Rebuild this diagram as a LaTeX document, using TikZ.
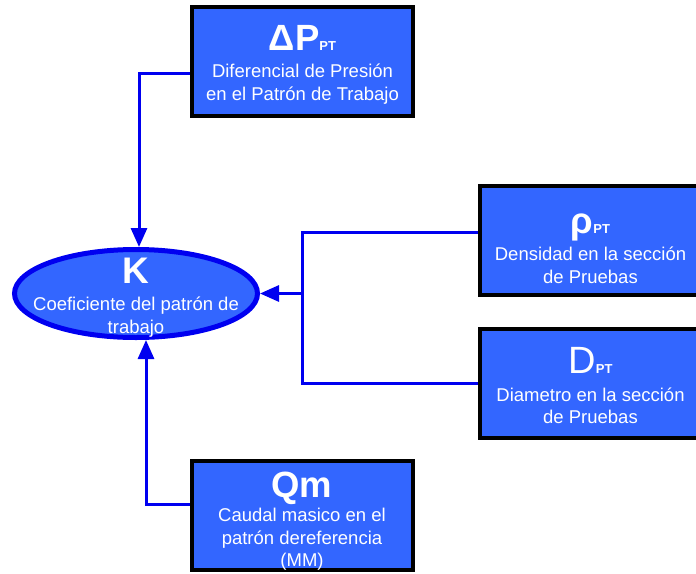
\documentclass[tikz,border=0pt]{standalone}
\usepackage{fontspec}
\setmainfont{Liberation Sans}
\usepackage{xcolor}
\usetikzlibrary{positioning,arrows.meta,shapes.geometric,shadows}
\definecolor{boxblue}{HTML}{3366FF}
\definecolor{linkblue}{HTML}{0000F0}
\newcommand{\ttl}[1]{{\fontsize{36.5}{28}\selectfont\bfseries #1}}
\newcommand{\subtxt}[1]{{\fontsize{13}{12}\selectfont\bfseries #1}}

\begin{document}
\begin{tikzpicture}[
  x=1pt,y=-1pt,
  font=\fontsize{18.5}{22.5}\selectfont,
  var/.style={draw=black,line width=4pt,fill=boxblue,
    minimum width=221pt,minimum height=109pt,inner sep=0pt,
    drop shadow={shadow xshift=1.5pt,shadow yshift=-1.5pt,fill=black!45,opacity=.6}},
  res/.style={ellipse,draw=linkblue,line width=5pt,fill=boxblue,
    minimum width=243pt,minimum height=88pt,inner sep=0pt},
  txt/.style={text=white,align=center,inner sep=0pt},
  >={Triangle[length=19pt,width=16pt]},
  link/.style={draw=linkblue,line width=3pt},
  arr/.style={link,->}
]
\useasboundingbox (0,0) rectangle (696,573);
% ---------------- result ----------------
\node[res] (K) at (136,293.5) {};
\node[txt] (Kt) at ([yshift=-4pt]K.center)
  {{\fontsize{37}{28}\selectfont\bfseries K}\\[5pt]Coeficiente del patrón de\\trabajo};

% ---------------- inputs ----------------
\node[var] (dP)  at (302.5,61.5) {};
\node[var] (rho) at (590.5,240)  {};
\node[var] (D)   at (590.5,383.5){};
\node[var] (Qm)  at (302,515)    {};
\node[txt] (dPt)  at ([yshift=-3pt]dP.center)
  {\ttl{ΔP}\subtxt{PT}\\[5pt]Diferencial de Presión\\en el Patrón de Trabajo};
\node[txt] (rhot) at ([yshift=-8.5pt]rho.center)
  {\ttl{ρ}\subtxt{PT}\\[5pt]Densidad en la sección\\de Pruebas};
\node[txt] (Dt)   at ([yshift=-2.5pt]D.center)
  {{\fontsize{38}{28}\selectfont D}\subtxt{PT}\\[5pt]Diametro en la sección\\de Pruebas};
\node[txt] (Qmt)  at ([yshift=-6pt]Qm.center)
  {\ttl{Qm}\\[2pt]Caudal masico en el\\patrón dereferencia\\(MM)};

% ---------------- connectors ----------------
\coordinate (jn) at (302,293.5);
\draw[arr] ([yshift=-11.5pt]dP.west) -| ([xshift=3pt]K.north);
\draw[arr] ([yshift=11pt]Qm.west) -| ([xshift=10pt]K.south);
\draw[link] ([yshift=8pt]rho.west) -| (jn) |- (D.west);
\draw[arr] (jn) -- (K.east);
\end{tikzpicture}
\end{document}
